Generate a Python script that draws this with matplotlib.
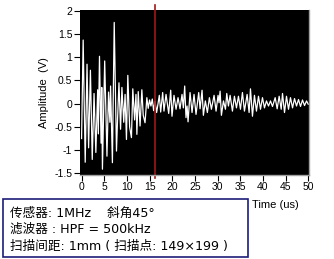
import matplotlib
matplotlib.use("Agg")
import matplotlib.pyplot as plt
from matplotlib.patches import Rectangle

# waveform (extrema, time in us, amplitude in V)
t_us = [0.0, 0.35, 0.8, 1.2, 1.55, 1.95, 2.35, 2.75, 3.15, 3.55, 3.7, 3.95,
        4.3, 4.45, 4.6, 5.1, 5.6, 5.95, 6.25, 6.4, 6.8, 7.2, 7.7, 7.95,
        8.25, 8.6, 8.9, 9.3, 9.6, 9.9, 10.2, 10.6, 11.0, 11.3, 11.7, 12.0,
        12.2, 12.5, 12.9, 13.3, 13.6, 14.0, 14.4, 14.7, 15.0, 15.3, 15.6, 15.9,
        16.2, 16.56, 17.15, 17.45, 17.89, 18.18, 18.63, 19.22, 19.66, 19.95,
        20.39, 20.84, 21.28, 21.72, 22.16, 22.45, 22.75, 23.04, 23.27, 23.49,
        23.93, 24.37, 24.81, 25.25, 25.84, 26.14, 26.58, 26.87, 27.31, 27.75,
        28.2, 28.64, 29.23, 29.67, 30.11, 30.33, 30.56, 30.85, 31.3, 31.74,
        32.03, 32.4, 32.77, 33.28, 33.72, 34.17, 34.61, 35.05, 35.49, 35.93,
        36.52, 36.96, 37.26, 37.7, 38.14, 38.58, 39.03, 39.47, 39.91, 40.35,
        40.79, 41.24, 41.68, 42.12, 42.71, 43.15, 43.59, 44.04, 44.33, 44.77,
        45.21, 45.65, 46.09, 46.54, 46.98, 47.42, 47.86, 48.3, 48.74, 49.19,
        49.63, 50.0]
amp_v = [-0.75, 1.37, -1.26, 0.85, -0.95, 0.72, -1.2, 0.22, -1.05, 0.3, -0.65, 1.02,
         -0.85, 0.35, -1.41, 0.92, -1.13, 0.25, -0.4, 0.38, -1.27, 1.75, -1.02, -0.3,
         0.45, -0.55, 0.35, -0.4, 0.2, -0.77, 0.61, -0.5, -0.73, 0.32, -0.35, 0.2,
         -0.66, 0.26, -0.48, 0.3, -0.25, -0.41, 0.13, -0.1, 0.08, -0.05, 0.1, -0.15,
         0.05, -0.19, 0.18, -0.18, 0.24, -0.16, 0.2, -0.21, 0.29, -0.27,
         0.18, -0.12, 0.13, -0.11, 0.2, -0.09, 0.38, -0.3, -0.05, -0.39,
         0.24, -0.19, 0.2, -0.23, 0.24, -0.11, 0.29, -0.25, 0.06, -0.19,
         0.13, -0.12, 0.18, -0.16, 0.18, 0.02, 0.27, -0.25, 0.06, -0.12,
         0.22, -0.05, 0.18, -0.16, 0.16, -0.09, 0.16, -0.12, 0.24, -0.16,
         0.2, -0.19, 0.32, -0.27, 0.18, -0.16, 0.16, -0.12, 0.13, -0.09,
         0.06, -0.05, 0.06, -0.06, 0.13, -0.11, 0.16, -0.12, 0.22, -0.19,
         0.16, -0.12, 0.13, -0.09, 0.11, -0.05, 0.09, -0.06, 0.08, -0.04,
         0.06, -0.01]

cursor_us = 16.2
x_ticks = [0, 5, 10, 15, 20, 25, 30, 35, 40, 45, 50]
y_ticks = [-1.5, -1, -0.5, 0, 0.5, 1, 1.5, 2]
y_labels = ["-1.5", "-1", "-0.5", "0", "0.5", "1", "1.5", "2"]
info_lines = ["传感器: 1MHz    斜角45°",
              "滤波器 : HPF = 500kHz",
              "扫描间距: 1mm ( 扫描点: 149×199 )"]

plt.rcParams["font.family"] = ["Liberation Sans", "DejaVu Sans"]

fig = plt.figure(figsize=(3.34, 2.59), dpi=100)
ax = fig.add_axes([0.2395, 0.324, 0.686, 0.637])
ax.set_facecolor("black")

ax.plot(t_us, amp_v, color="white", lw=0.9)
ax.axvline(cursor_us, ymin=-0.02, ymax=1.03, color="#a01818", lw=1.2, clip_on=False)

ax.set_xlim(-0.35, 50.2)
ax.set_ylim(-1.537, 2.015)
ax.set_xticks(x_ticks)
ax.set_yticks(y_ticks)
ax.set_yticklabels(y_labels)
ax.tick_params(axis="both", direction="out", length=4, width=0.8, labelsize=7.5,
               pad=1.5, color="black")
ax.tick_params(axis="x", pad=1)

for side in ["left", "top"]:
    ax.spines[side].set_visible(False)
for side in ["right", "bottom"]:
    ax.spines[side].set_color("#a0a0a0")
    ax.spines[side].set_linewidth(1)

ax.set_ylabel("Amplitude  (V)", fontsize=8, labelpad=4)
fig.text(252 / 334, 1 - 205 / 259, "Time (us)", fontsize=8, va="center", ha="left")

# info box
fig.patches.append(Rectangle((3 / 334, 1 - 256.5 / 259), 245 / 334, 57.5 / 259,
                             transform=fig.transFigure, fill=False,
                             edgecolor="#1c1c78", lw=1.2))
for i, line in enumerate(info_lines):
    fig.text(10 / 334, 1 - (213 + i * 16.5) / 259, line, fontsize=9.1,
             family=["DejaVu Sans", "Noto Sans CJK SC"], va="center", ha="left")

fig.savefig("out.png", dpi=100)
